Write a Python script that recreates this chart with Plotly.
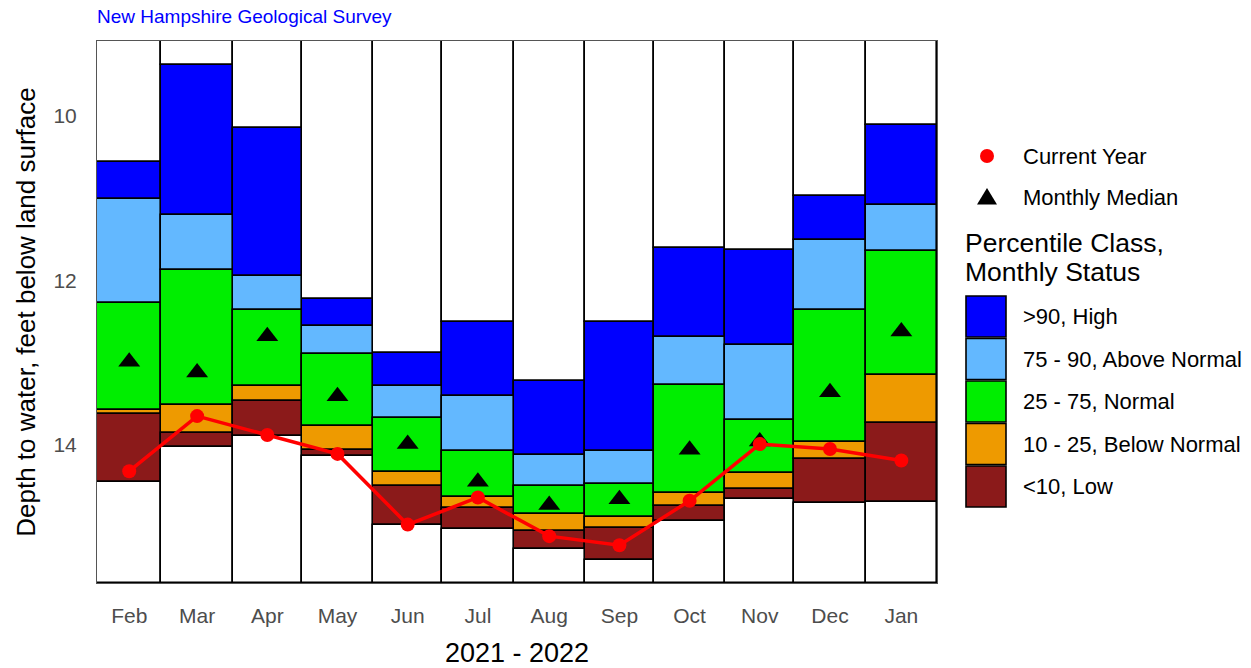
import calendar
import plotly.graph_objects as go

# ---------------- data ----------------
months = ["Feb", "Mar", "Apr", "May", "Jun", "Jul", "Aug", "Sep", "Oct", "Nov", "Dec", "Jan"]
month_years = [2021, 2021, 2021, 2021, 2021, 2021, 2021, 2021, 2021, 2021, 2021, 2022]
month_numbers = [2, 3, 4, 5, 6, 7, 8, 9, 10, 11, 12, 1]

# depth to water (ft below land surface) at percentile-class boundaries
record_shallow = [10.556, 9.38, 10.14, 12.225, 12.885, 12.51, 13.22, 12.50, 11.61, 11.63, 10.97, 10.11]
p90 = [11.013, 11.21, 11.945, 12.56, 13.28, 13.41, 14.12, 14.07, 12.69, 12.79, 11.51, 11.08]
p75 = [12.27, 11.87, 12.36, 12.90, 13.675, 14.08, 14.50, 14.47, 13.275, 13.70, 12.36, 11.64]
p25 = [13.574, 13.52, 13.28, 13.77, 14.33, 14.63, 14.84, 14.88, 14.58, 14.345, 13.97, 13.15]
p10 = [13.62, 13.86, 13.47, 14.06, 14.50, 14.77, 15.045, 15.01, 14.74, 14.535, 14.17, 13.74]
record_deep = [14.45, 14.03, 13.89, 14.13, 14.97, 15.02, 15.27, 15.40, 14.92, 14.66, 14.71, 14.70]

current_year = [14.32, 13.65, 13.88, 14.11, 14.97, 14.64, 15.11, 15.22, 14.68, 13.99, 14.05, 14.19]
monthly_median = [12.99, 13.12, 12.68, 13.41, 13.99, 14.45, 14.73, 14.66, 14.06, 13.96, 13.36, 12.62]

class_names = [">90, High", "75 - 90, Above Normal", "25 - 75, Normal",
               "10 - 25, Below Normal", "<10, Low"]
class_colors = ["#0000FF", "#63B8FF", "#00EE00", "#EE9A00", "#8B1A1A"]

# ---------------- layout constants ----------------
Y_TOP, Y_BOTTOM = 9.088, 15.68
W, H = 1251, 668
ML, MT = 97, 41
MR = W - 937
MB = H - 583
FONT = "Liberation Sans, Arial, sans-serif"

days = [calendar.monthrange(y, m)[1] for y, m in zip(month_years, month_numbers)]
starts = []
acc = 0
for d in days:
    starts.append(acc)
    acc += d
centers = [s + d / 2 for s, d in zip(starts, days)]
total_days = acc

fig = go.Figure()


def add_band(base, length, color, name):
    fig.add_trace(go.Bar(
        x=centers, y=length, base=base, width=days,
        marker=dict(color=color, line=dict(color="black", width=1.6)),
        name=name, showlegend=False, hoverinfo="skip",
    ))


# white region above record shallow depth
add_band([Y_TOP] * 12, [t - Y_TOP for t in record_shallow], "white", "above")
bounds = [record_shallow, p90, p75, p25, p10, record_deep]
for i in range(5):
    up, lo = bounds[i], bounds[i + 1]
    add_band(up, [b - a for a, b in zip(up, lo)], class_colors[i], class_names[i])
# white region below record deep
add_band(record_deep, [Y_BOTTOM - b for b in record_deep], "white", "below")

fig.add_trace(go.Scatter(
    x=centers, y=monthly_median, mode="markers", name="Monthly Median",
    marker=dict(symbol="triangle-up", size=19, color="black"),
    showlegend=False,
))
fig.add_trace(go.Scatter(
    x=centers, y=current_year, mode="lines+markers", name="Current Year",
    line=dict(color="#FF0000", width=3.5),
    marker=dict(size=14, color="#FF0000"),
    showlegend=False,
))

# ---------------- manual legend (pixel -> paper) ----------------
pw, ph = W - ML - MR, H - MT - MB


def px(xp):
    return (xp - ML) / pw


def py(yp):
    return (H - MB - yp) / ph


shapes = []
annotations = []

shapes.append(dict(type="circle", xref="paper", yref="paper", xsizemode="pixel", ysizemode="pixel",
                   xanchor=px(987), yanchor=py(156), x0=-7, x1=7, y0=-7, y1=7,
                   fillcolor="#FF0000", line=dict(width=0)))
shapes.append(dict(type="path", xref="paper", yref="paper", xsizemode="pixel", ysizemode="pixel",
                   xanchor=px(987), yanchor=py(197), path="M -10,-7.5 L 10,-7.5 L 0,9 Z",
                   fillcolor="black", line=dict(width=0)))
annotations.append(dict(text="Current Year", x=px(1021), y=py(156), xref="paper", yref="paper",
                        xanchor="left", yanchor="middle", showarrow=False,
                        font=dict(size=22, color="black", family=FONT)))
annotations.append(dict(text="Monthly Median", x=px(1021), y=py(198), xref="paper", yref="paper",
                        xanchor="left", yanchor="middle", showarrow=False,
                        font=dict(size=22, color="black", family=FONT)))
annotations.append(dict(text="Percentile Class,", x=px(963), y=py(243), xref="paper", yref="paper",
                        xanchor="left", yanchor="middle", showarrow=False,
                        font=dict(size=26.5, color="black", family=FONT)))
annotations.append(dict(text="Monthly Status", x=px(963), y=py(272), xref="paper", yref="paper",
                        xanchor="left", yanchor="middle", showarrow=False,
                        font=dict(size=26.5, color="black", family=FONT)))

box_tops = [296, 338.5, 381, 423.5, 466]
for i in range(5):
    t = box_tops[i]
    shapes.append(dict(type="rect", xref="paper", yref="paper",
                       x0=px(966), x1=px(1006), y0=py(t + 41), y1=py(t),
                       fillcolor=class_colors[i], line=dict(color="black", width=1.6)))
    annotations.append(dict(text=class_names[i], x=px(1021), y=py(t + 20.5), xref="paper", yref="paper",
                            xanchor="left", yanchor="middle", showarrow=False,
                            font=dict(size=22, color="black", family=FONT)))

annotations.append(dict(text="New Hampshire Geological Survey", x=px(95), y=py(17), xref="paper", yref="paper",
                        xanchor="left", yanchor="middle", showarrow=False,
                        font=dict(size=19, color="#0000FF", family=FONT)))

fig.update_layout(
    width=W, height=H,
    margin=dict(l=ML, r=MR, t=MT, b=MB),
    paper_bgcolor="white", plot_bgcolor="white",
    barmode="overlay", bargap=0,
    font=dict(family=FONT, color="black"),
    shapes=shapes, annotations=annotations,
    showlegend=False,
)
fig.update_xaxes(
    range=[0, total_days], tickmode="array", tickvals=centers, ticktext=months,
    showgrid=False, zeroline=False, showline=True, mirror=True, linecolor="#555555", linewidth=1,
    ticks="", ticklabelstandoff=14, automargin=False,
    tickfont=dict(size=21, color="#4D4D4D", family=FONT),
    title=dict(text="2021 - 2022", font=dict(size=27, color="black", family=FONT), standoff=24),
)
fig.update_yaxes(
    range=[Y_BOTTOM, Y_TOP], tickmode="array", tickvals=[10, 12, 14],
    showgrid=False, zeroline=False, showline=True, mirror=True, linecolor="#555555", linewidth=1,
    ticks="", ticklabelstandoff=15, automargin=False,
    tickfont=dict(size=21, color="#4D4D4D", family=FONT),
    title=dict(text="Depth to water, feet below land surface",
               font=dict(size=26, color="black", family=FONT), standoff=10),
)

fig.write_html("out.html", config={"displayModeBar": False},
               post_script="document.body.style.margin='0';document.body.style.overflow='hidden';")
